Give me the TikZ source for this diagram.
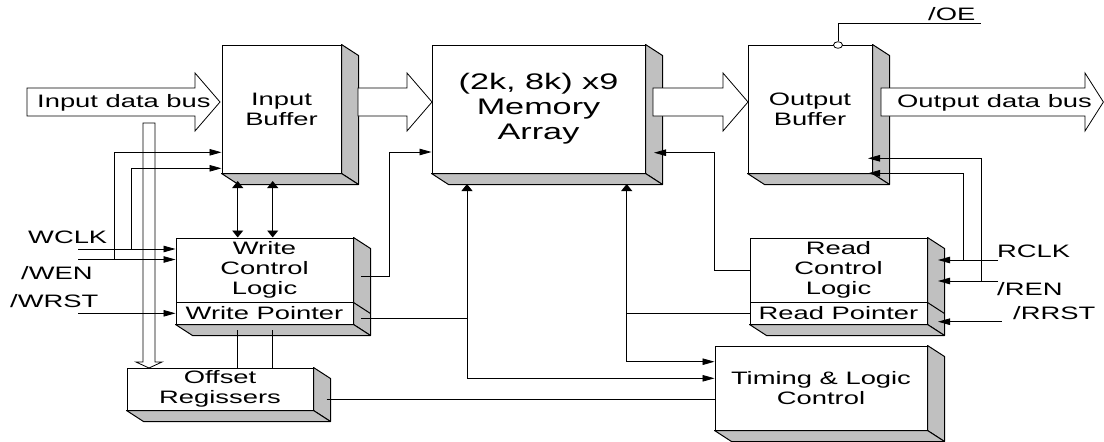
\documentclass[tikz,border=0pt]{standalone}
\usepackage{fontspec}
\setmainfont{Liberation Sans}[FakeStretch=1.52]
\usetikzlibrary{arrows.meta,shapes.geometric,calc}
\definecolor{faceg}{RGB}{192,192,192}
\newcommand{\depthfaces}[2]{%
  \path[face] (#1.north east) -- ++(17,11) -- ($(#2.south east)+(17,11)$) -- (#2.south east) -- cycle;
  \path[face] (#2.south west) -- (#2.south east) -- ++(17,11) -- ($(#2.south west)+(17,11)$) -- cycle;
}
\begin{document}
\begin{tikzpicture}[x=1pt,y=-1pt,
  box/.style={draw,line width=1pt,fill=white,inner sep=0pt,align=center,font=\fontsize{18}{20}\selectfont},
  lbl/.style={inner sep=0pt,font=\fontsize{18}{20}\selectfont},
  face/.style={fill=faceg,draw=black,line width=1pt,line join=round},
  wire/.style={line width=0.8pt},
  hA/.style={wire,-{Triangle[length=12pt,width=6.5pt]}},
  vBoth/.style={wire,{Triangle[length=7pt,width=11pt]}-{Triangle[length=7pt,width=11pt]}},
  vhA/.style={wire,{Triangle[length=7pt,width=11pt]}-{Triangle[length=12pt,width=6.5pt]}},
  bus/.style={draw,fill=white,line width=0.8pt,line join=miter}]

\useasboundingbox (0,0) rectangle (1104,442);

% boxes
\node[box,minimum width=119pt,minimum height=128pt] (ib) at (281.5,109) {Input\\Buffer};
\node[box,minimum width=213pt,minimum height=128pt,font=\fontsize{22.5}{25}\selectfont] (mem) at (538.5,109) {(2k, 8k) x9\\Memory\\Array};
\node[box,minimum width=124pt,minimum height=128pt] (ob) at (810,109) {Output\\Buffer};
\node[box,minimum width=177pt,minimum height=64pt] (wcl) at (264.5,270) {Write\\Control\\Logic};
\node[box,minimum width=177pt,minimum height=22pt] (wp) at (264.5,313) {Write Pointer};
\node[box,minimum width=177pt,minimum height=64pt] (rcl) at (838.5,270) {Read\\Control\\Logic};
\node[box,minimum width=177pt,minimum height=22pt] (rp) at (838.5,313) {Read Pointer};
\node[box,minimum width=186pt,minimum height=42pt] (off) at (220,389) {Offset\\Regissers};
\node[box,minimum width=212pt,minimum height=84pt] (tlc) at (821,388) {Timing \& Logic\\Control};

% 3D faces
\depthfaces{ib}{ib}
\depthfaces{mem}{mem}
\depthfaces{ob}{ob}
\depthfaces{wcl}{wp}
\draw[line width=1pt] (wcl.south east) -- ++(17,11);
\depthfaces{rcl}{rp}
\draw[line width=1pt] (rcl.south east) -- ++(17,11);
\depthfaces{off}{off}
\depthfaces{tlc}{tlc}

% hollow bus arrows
\draw[bus] (27,88) -- (195,88) -- (195,73) -- (220,102) -- (195,131) -- (195,116) -- (27,116) -- cycle;
\node[lbl,anchor=base west] (inbus) at (37,107.3) {Input data bus};
\draw[bus] (358,88) -- (407,88) -- (407,73) -- (432,102) -- (407,131) -- (407,116) -- (358,116) -- cycle;
\draw[bus] (653,88) -- (723,88) -- (723,73) -- (748,102) -- (723,131) -- (723,116) -- (653,116) -- cycle;
\draw[bus] (881,88) -- (1085,88) -- (1085,73) -- (1103.4,102) -- (1085,131) -- (1085,116) -- (881,116) -- cycle;
\node[lbl,anchor=base west] (outbus) at (897,107.3) {Output data bus};
\draw[bus] (143,123) -- (155,123) -- (155,362) -- (162,362) -- (149,368) -- (136,362) -- (143,362) -- cycle;

% left signals
\coordinate (wclkL) at (78,249);
\coordinate (wenL) at (78,259.5);
\coordinate (wrstL) at (78,313.3);
\coordinate (j1) at (131.7,249);
\coordinate (j2) at (114,259.5);
\draw[hA] (wclkL) -- (wcl.west |- wclkL);
\draw[hA] (wenL) -- (wcl.west |- wenL);
\draw[hA] (wrstL) -- (wp.west |- wrstL);
\draw[hA] (j1) |- (ib.west |- 0,168.3);
\draw[hA] (j2) |- (ib.west |- 0,152.3);
\node[lbl,anchor=base west] (wclk) at (28,243.5) {WCLK};
\node[lbl,anchor=base west] (wen) at (21,279) {/WEN};
\node[lbl,anchor=base west] (wrst) at (10,307.7) {/WRST};

% buffer <-> write control
\draw[vBoth] (237.7,181) -- (wcl.north -| 237.7,0);
\draw[vBoth] (272.7,181) -- (wcl.north -| 272.7,0);
\draw[wire] (237.7,330) -- (off.north -| 237.7,0);
\draw[wire] (272.7,330) -- (off.north -| 272.7,0);

% write control -> memory
\draw[hA] (361,276) -| (389.3,152) -- (mem.west |- 0,152);

% pointers / timing
\draw[wire] (361,318.5) -- (467,318.5);
\draw[vhA] (467,184) -- (467,378.3) -- (tlc.west |- 0,378.3);
\draw[vhA] (626.7,184) -- (626.7,361.7) -- (tlc.west |- 0,361.7);
\draw[wire] (626.7,313.3) -- (rp.west |- 0,313.3);
\draw[wire] (326.7,399) -- (tlc.west |- 0,399);

% read control -> memory
\draw[hA] (rcl.west |- 0,270) -| (714.5,152.7) -- (654,152.7);

% right signals
\coordinate (rclkR) at (998,260);
\coordinate (renR) at (998,281);
\coordinate (rrstR) at (1001.7,321.7);
\draw[hA] (rclkR) -- (938,260);
\draw[hA] (renR) -- (938,281);
\draw[hA] (rrstR) -- (938,321.7);
\draw[hA] (963,260) |- (868,173.3);
\draw[hA] (981,281) |- (868,158.3);
\node[lbl,anchor=base west] (rclk) at (997,257.3) {RCLK};
\node[lbl,anchor=base west] (ren) at (997,295.7) {/REN};
\node[lbl,anchor=base west] (rrst) at (1013,319) {/RRST};

% /OE
\node[draw,ellipse,fill=white,minimum width=9pt,minimum height=6.6pt,inner sep=0pt,line width=0.8pt] (oeb) at (838,45) {};
\draw[wire] (oeb.north) |- (981,23.3);
\node[lbl,anchor=base west] (oe) at (928,20.7) {/OE};
\end{tikzpicture}
\end{document}
